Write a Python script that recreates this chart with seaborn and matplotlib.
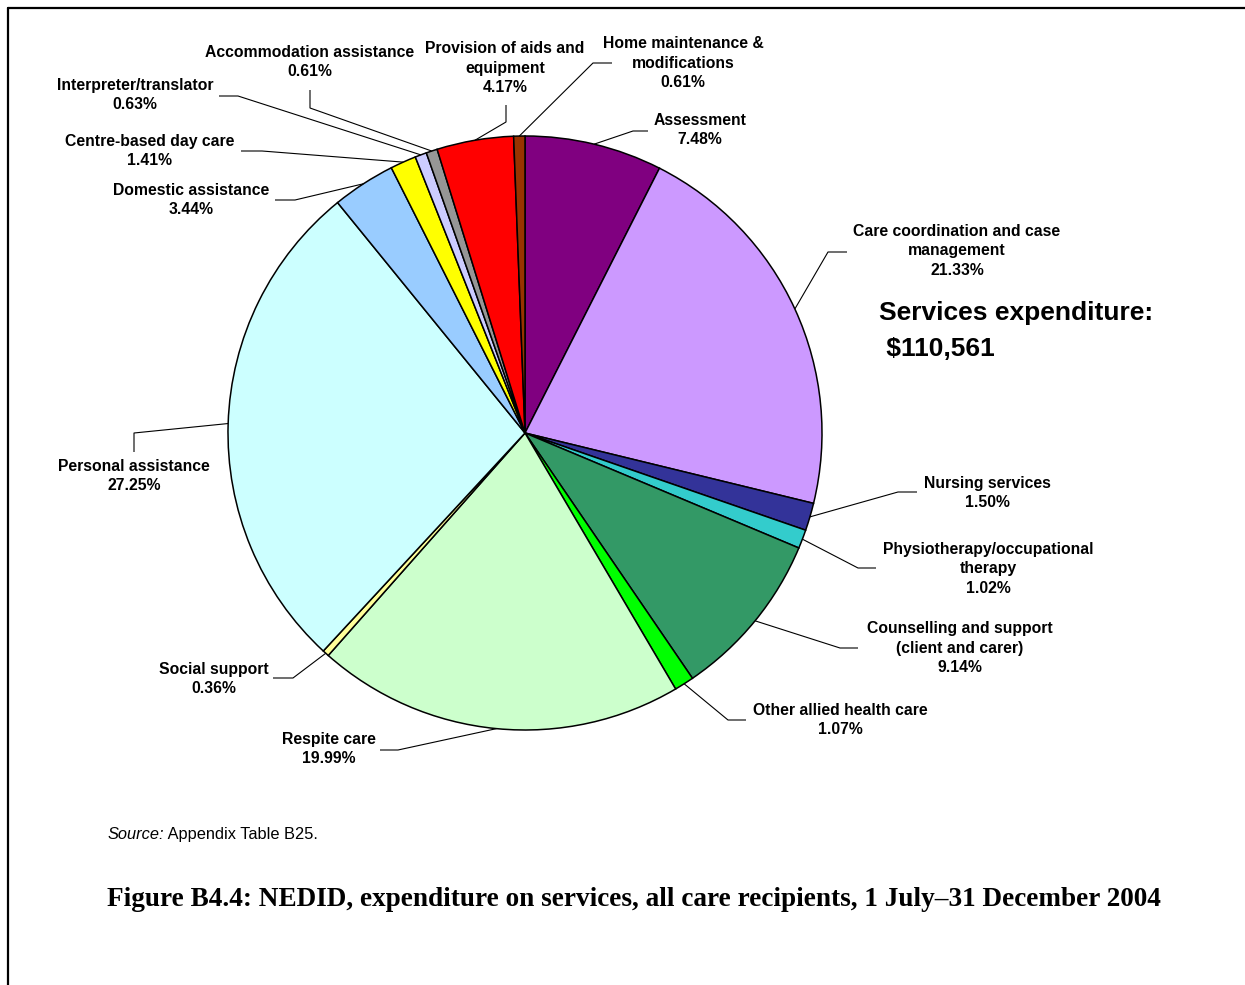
import matplotlib
matplotlib.use("Agg")
import matplotlib.pyplot as plt
import seaborn as sns
import numpy as np
from matplotlib.lines import Line2D

# Service categories in clockwise order, starting from 12 o'clock
categories = [
    "Assessment",
    "Care coordination and case\nmanagement",
    "Nursing services",
    "Physiotherapy/occupational\ntherapy",
    "Counselling and support\n(client and carer)",
    "Other allied health care",
    "Respite care",
    "Social support",
    "Personal assistance",
    "Domestic assistance",
    "Centre-based day care",
    "Interpreter/translator",
    "Accommodation assistance",
    "Provision of aids and\nequipment",
    "Home maintenance &\nmodifications",
]

# Share of services expenditure (%)
shares = [7.48, 21.33, 1.50, 1.02, 9.14, 1.07, 19.99, 0.36, 27.25,
          3.44, 1.41, 0.63, 0.61, 4.17, 0.61]

slice_colors = [
    "#800080", "#CC99FF", "#333399", "#33CCCC", "#339966", "#00FF00",
    "#CCFFCC", "#FFFF99", "#CCFFFF", "#99CCFF", "#FFFF00", "#CCCCFF",
    "#969696", "#FF0000", "#993300",
]

total_text = "Services expenditure:\n $110,561"
source_label = "Source:"
source_text = " Appendix Table B25."
title_text = ("Figure B4.4: NEDID, expenditure on services, all care recipients, "
              "1 July\u201331 December 2004")

# ---- layout (pixel positions on a 1245 x 985 canvas, y measured from top) ----
W, H = 1245, 985
pie_cx, pie_cy, pie_r = 525, 433, 297

# label centre, leader elbow, leader end (next to the text)
label_layout = [
    ((700, 130), (633, 131), (648, 131)),
    ((957, 251), (828, 252), (847, 252)),
    ((987, 493), (898, 492), (917, 492)),
    ((988, 569), (858, 568), (876, 568)),
    ((960, 648), (840, 648), (858, 648)),
    ((840, 720), (728, 720), (746, 720)),
    ((329, 749), (398, 750), (380, 750)),
    ((214, 679), (293, 678), (273, 678)),
    ((134, 476), (134, 433), (134, 452)),
    ((191, 200), (295, 200), (275, 200)),
    ((150, 151), (262, 151), (241, 151)),
    ((135, 95), (238, 96), (219, 96)),
    ((310, 62), (310, 108), (310, 90)),
    ((505, 68), (506, 122), (506, 105)),
    ((683, 63), (593, 63), (612, 63)),
]


def Y(y):
    return H - y


sns.set_theme(style="white")
plt.rcParams["font.family"] = ["Liberation Sans", "DejaVu Sans"]

fig = plt.figure(figsize=(W / 100, H / 100), dpi=100)
fig.patch.set_facecolor("white")
ax = fig.add_axes([0, 0, 1, 1])

palette = sns.color_palette(slice_colors)
wedges, _ = ax.pie(
    shares,
    colors=palette,
    startangle=90,
    counterclock=False,
    center=(pie_cx, Y(pie_cy)),
    radius=pie_r,
    wedgeprops=dict(edgecolor="black", linewidth=1.1),
)

ax.set_xlim(0, W)
ax.set_ylim(0, H)
ax.set_aspect("equal")
ax.axis("off")

# slice labels with leader lines from the rim at each slice's mid-angle
for wedge, name, val, (txt, elbow, end) in zip(wedges, categories, shares, label_layout):
    mid = np.deg2rad((wedge.theta1 + wedge.theta2) / 2)
    rx = pie_cx + pie_r * np.cos(mid)
    ry = Y(pie_cy) + pie_r * np.sin(mid)
    ax.plot([rx, elbow[0], end[0]], [ry, Y(elbow[1]), Y(end[1])],
            color="black", lw=0.8, solid_capstyle="butt", zorder=3)
    ax.text(txt[0], Y(txt[1]), f"{name}\n{val:.2f}%", ha="center", va="center",
            fontsize=11.3, fontweight="bold", linespacing=1.38,
            multialignment="center", color="black")

# total expenditure annotation
ax.text(879, Y(331), total_text, ha="left", va="center", fontsize=19,
        fontweight="bold", linespacing=1.6, color="black")

# source note: italic lead-in followed by the reference, on a shared baseline
src = ax.text(108, Y(839), source_label, ha="left", va="baseline", fontsize=11.8,
              style="italic", color="black")
fig.canvas.draw()
src_end = ax.transData.inverted().transform(
    (src.get_window_extent().x1, 0))[0]
ax.text(src_end, Y(839), source_text, ha="left", va="baseline", fontsize=11.8,
        color="black")

# figure caption
ax.text(634, Y(900), title_text, ha="center", va="center", fontsize=19.6,
        fontweight="bold", family=["Liberation Serif", "DejaVu Serif"],
        color="black")

# page frame (left and top rules)
fig.add_artist(Line2D([8 / W, 8 / W], [0, 1 - 8 / H], transform=fig.transFigure,
                      color="black", lw=1.6))
fig.add_artist(Line2D([8 / W, 1], [1 - 8 / H, 1 - 8 / H], transform=fig.transFigure,
                      color="black", lw=1.6))

fig.savefig("out.png", dpi=100)
